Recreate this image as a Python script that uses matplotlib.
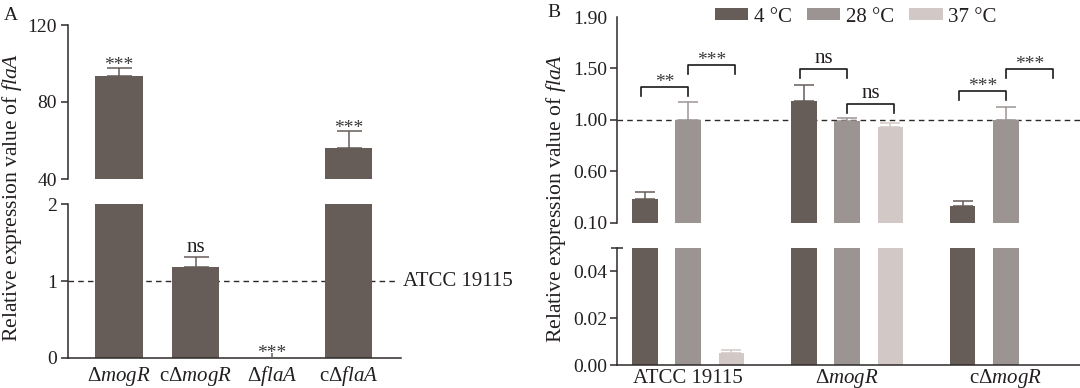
import matplotlib
matplotlib.use('Agg')
import matplotlib.pyplot as plt
import numpy as np

plt.rcParams['font.family'] = ['Liberation Serif', 'DejaVu Serif']
plt.rcParams['mathtext.fontset'] = 'custom'
plt.rcParams['mathtext.rm'] = 'Liberation Serif'
plt.rcParams['mathtext.it'] = 'Liberation Serif:italic'
plt.rcParams['font.size'] = 14

# ---------------- data ----------------
# Panel A
strainsA = ['Δ$\\mathit{mogR}$', 'cΔ$\\mathit{mogR}$', 'Δ$\\mathit{flaA}$', 'cΔ$\\mathit{flaA}$']
valsA = [93.7, 1.18, 0.0, 56.1]
errA = [3.8, 0.13, 0.07, 9.0]
sigA = ['***', 'ns', '***', '***']
sigA_base = [96.6, 1.38, 0.0, 63.7]
refA_label = 'ATCC 19115'
upperA_ticks = [40, 80, 120]
lowerA_ticks = [0, 1, 2]

# Panel B
groupsB = ['ATCC 19115', 'Δ$\\mathit{mogR}$', 'cΔ$\\mathit{mogR}$']
temps = ['4 °C', '28 °C', '37 °C']
valsB = [[0.31, 1.17, 0.25],      # 4 °C
         [1.00, 0.99, 1.00],      # 28 °C
         [0.0053, 0.94, np.nan]]  # 37 °C
errB = [[0.06, 0.14, 0.04],
        [0.16, 0.03, 0.11],
        [0.001, 0.03, np.nan]]
upperB_ticks = [0.10, 0.55, 1.00, 1.45, 1.90]
upperB_labels = ['0.10', '0.60', '1.00', '1.50', '1.90']
lowerB_ticks = [0.00, 0.02, 0.04]
lowerB_labels = ['0.00', '0.02', '0.04']
# (group, temp1, temp2, bracket height, label)
bracketsB = [(0, 0, 1, 1.286, '**'), (0, 1, 2, 1.481, '***'),
             (1, 0, 1, 1.444, 'ns'), (1, 1, 2, 1.140, 'ns'),
             (2, 0, 1, 1.256, '***'), (2, 1, 2, 1.444, '***')]

colA = '#665d58'
colsB = ['#665d58', '#9c9492', '#d2c9c7']
axcol = '#2e2a28'
txtcol = '#231f20'
FS_TICK = 14
FS_LAB = 15
FS_Y = 15.6

fig = plt.figure(figsize=(10.8, 3.88), dpi=100)

def style(ax, bottom=True):
    for s in ['top', 'right']:
        ax.spines[s].set_visible(False)
    ax.spines['bottom'].set_visible(bottom)
    for s in ['left', 'bottom']:
        ax.spines[s].set_color(axcol)
        ax.spines[s].set_linewidth(1.1)
    ax.tick_params(axis='y', length=4.8, width=1.1, color=axcol, labelcolor=txtcol,
                   labelsize=FS_TICK)
    ax.tick_params(axis='x', length=0, labelcolor=txtcol, labelsize=FS_LAB)
    if not bottom:
        ax.set_xticks([])

def top_tick_in(ax, value, direction='in'):
    for t in ax.yaxis.get_major_ticks():
        if abs(t.get_loc() - value) < 1e-9:
            t.tick1line.set_visible(False)
    ax.set_yticks([value], minor=True)
    ax.tick_params(axis='y', which='minor', direction=direction, length=6 if direction == 'in' else 9,
                   width=1.1, color=axcol)

# ---------------- Panel A ----------------
W, H = 1080, 388
xA = np.arange(len(strainsA))
wA = 0.62
axAu = fig.add_axes([68.3 / W, 1 - 179 / H, (401 - 68.3) / W, 154 / H])
axAl = fig.add_axes([68.3 / W, 1 - 358 / H, (401 - 68.3) / W, 154 / H])
for ax in (axAu, axAl):
    ax.bar(xA, valsA, width=wA, color=colA, edgecolor='none', zorder=2)
    for i in range(len(xA)):
        ax.errorbar(xA[i], valsA[i], yerr=[[0], [errA[i]]], fmt='none', ecolor=colA,
                    elinewidth=1.1, capsize=0 if i == 2 else 9, capthick=1.1, zorder=3)
    ax.set_xlim(-0.663, 3.686)
axAu.set_ylim(40, 120)
axAl.set_ylim(0, 2)
style(axAu, bottom=False)
style(axAl)
axAu.set_yticks(upperA_ticks)
axAl.set_yticks(lowerA_ticks)
axAu.tick_params(axis='y', pad=3.6)
axAl.tick_params(axis='y', pad=3.6)
top_tick_in(axAu, 120)
top_tick_in(axAl, 2)
axAl.set_xticks(xA)
axAl.set_xticklabels(strainsA, va='baseline')
axAl.tick_params(axis='x', pad=16.5)
axAl.axhline(1, xmin=0, xmax=0.984, color=axcol, lw=1.0, ls=(0, (4, 3)), zorder=1)
axAl.text(3.708, 1, refA_label, ha='left', va='center', color=txtcol, clip_on=False,
          fontsize=FS_LAB)
for i, (lab, yb) in enumerate(zip(sigA, sigA_base)):
    ax = axAu if yb > 2 else axAl
    ax.text(xA[i], yb, lab, ha='center', va='baseline', color='#3a3a3a' if lab != 'ns' else txtcol,
            clip_on=False, fontsize=14 if lab != 'ns' else FS_LAB)

fig.text(4 / W, 1 - 7 / H, 'A', ha='left', va='top', color=txtcol, fontsize=14)
fig.text(12 / W, 1 - 197 / H, 'Relative expression value of $\\mathit{flaA}$', rotation=90,
         ha='center', va='center', color=txtcol, fontsize=FS_Y)

# ---------------- Panel B ----------------
xB = np.arange(len(groupsB))
off = 0.272
wB = 0.16
axBu = fig.add_axes([616.7 / W, 1 - 223 / H, (W - 616.7) / W, 206 / H])
axBl = fig.add_axes([616.7 / W, 1 - 365 / H, (W - 616.7) / W, 117.4 / H])
for ax in (axBu, axBl):
    for j in range(len(temps)):
        pos = xB + (j - 1) * off
        v = np.array(valsB[j], dtype=float)
        e = np.array(errB[j], dtype=float)
        ok = ~np.isnan(v)
        ax.bar(pos[ok], v[ok], width=wB, color=colsB[j], edgecolor='none', zorder=2,
               label=temps[j])
        ax.errorbar(pos[ok], v[ok], yerr=[np.zeros(ok.sum()), e[ok]], fmt='none',
                    ecolor=colsB[j], elinewidth=1.1, capsize=7, capthick=1.1, zorder=3)
    ax.set_xlim(-0.45, 2.466)
axBu.set_ylim(0.10, 1.90)
axBl.set_ylim(0, 0.05)
style(axBu, bottom=False)
style(axBl)
axBu.set_yticks(upperB_ticks)
axBu.set_yticklabels(upperB_labels)
axBl.set_yticks(lowerB_ticks)
axBl.set_yticklabels(lowerB_labels)
axBu.tick_params(axis='y', pad=2)
axBl.tick_params(axis='y', pad=2)
top_tick_in(axBu, 1.90)
axBl.set_yticks([0.05], minor=True)
axBl.tick_params(axis='y', which='minor', direction='inout', length=9, width=1.1, color=axcol)
axBl.set_xticks(xB)
axBl.set_xticklabels(groupsB, va='baseline')
axBl.tick_params(axis='x', pad=13)
axBu.axhline(1.0, color=axcol, lw=1.0, ls=(0, (4, 3)), zorder=1)

drop = 0.08
for g, t1, t2, yb, lab in bracketsB:
    x1 = xB[g] + (t1 - 1) * off - (0.022 if t1 == 0 else 0)
    x2 = xB[g] + (t2 - 1) * off + (0.022 if t2 == 2 else 0)
    axBu.plot([x1, x1, x2, x2], [yb - drop, yb, yb, yb - drop], color='#1a1a1a', lw=1.2,
              zorder=4, clip_on=False)
    ytxt = yb + (0.052 if lab == 'ns' else 0.0)
    axBu.text((x1 + x2) / 2, ytxt, lab, ha='center', va='baseline',
              color=txtcol if lab == 'ns' else '#3a3a3a', clip_on=False,
              fontsize=14 if lab != 'ns' else FS_LAB)

fig.text(547 / W, 1 - 4 / H, 'B', ha='left', va='top', color=txtcol, fontsize=14)
fig.text(556 / W, 1 - 198 / H, 'Relative expression value of $\\mathit{flaA}$', rotation=90,
         ha='center', va='center', color=txtcol, fontsize=FS_Y)

handles, labels = axBu.get_legend_handles_labels()
leg = axBu.legend(handles, labels, loc='center left', bbox_to_anchor=(715 / W, 1 - 17 / H),
                  bbox_transform=fig.transFigure, ncol=3, frameon=False, borderpad=0,
                  borderaxespad=0, handlelength=1.6, handleheight=0.55, handletextpad=0.25,
                  columnspacing=0.75, fontsize=FS_LAB)
for t in leg.get_texts():
    t.set_color(txtcol)

fig.savefig('out.png', dpi=100)
